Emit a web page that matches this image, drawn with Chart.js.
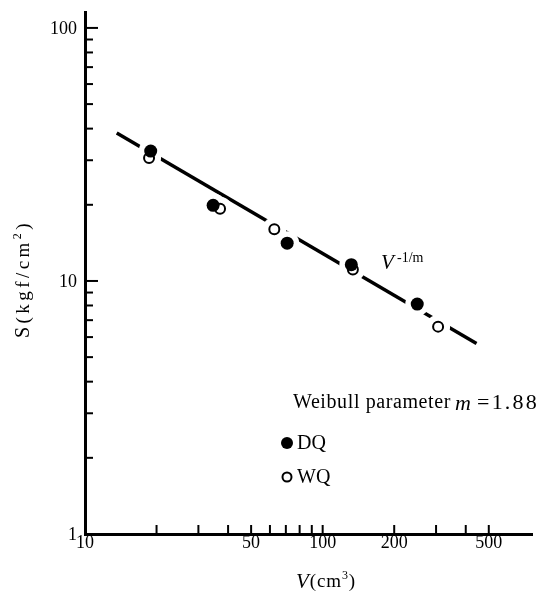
<!DOCTYPE html>
<html>
<head>
<meta charset="utf-8">
<script src="https://cdn.jsdelivr.net/npm/chart.js@4.4.1/dist/chart.umd.min.js"></script>
<style>
html,body{margin:0;padding:0;background:#fff;}
#wrap{width:544px;height:594px;position:relative;}
</style>
</head>
<body>
<div id="wrap"><canvas id="c" width="544" height="594"></canvas></div>
<script>
// Data
const V_DQ = [18.9, 34.6, 70.9, 132, 250];
const S_DQ = [32.6, 19.9, 14.1, 11.6, 8.1];
const V_WQ = [18.6, 37.0, 62.6, 134, 306];
const S_WQ = [30.6, 19.3, 16.0, 11.1, 6.6];
const V_FIT = [13.6, 444];
const S_FIT = [38.4, 5.66];
const X_TICKS = [10, 50, 100, 200, 500];
const Y_TICKS = [1, 10, 100];
const X_MINOR = [20, 30, 40, 50, 60, 70, 80, 90, 100, 200, 300, 400, 500];
const Y_MINOR = [2, 3, 4, 5, 6, 7, 8, 9, 20, 30, 40, 50, 60, 70, 80, 90];
const Y_MAJOR = [10, 100];

const pts = (xs, ys) => xs.map((x, i) => ({x: x, y: ys[i]}));
const SERIF = '"Liberation Serif", "DejaVu Serif", serif';

// draw a run of text pieces; optional targetW spreads the run to that width
function drawRun(ctx, pieces, x, y, targetW) {
  ctx.letterSpacing = '0px';
  let total = 0, n = 0;
  pieces.forEach(p => { ctx.font = p.font; total += ctx.measureText(p.t).width; n += p.t.length; });
  const sp = targetW ? Math.max(0, (targetW - total) / n) : 0;
  let cx = x;
  pieces.forEach(p => {
    ctx.font = p.font;
    ctx.letterSpacing = sp + 'px';
    ctx.fillText(p.t, cx, y + (p.dy || 0));
    cx += ctx.measureText(p.t).width;
  });
  ctx.letterSpacing = '0px';
}

const extras = {
  id: 'extras',
  afterDraw(chart) {
    const ctx = chart.ctx;
    const xs = chart.scales.x, ys = chart.scales.y;
    const left = chart.chartArea.left, bottom = chart.chartArea.bottom;
    ctx.save();
    ctx.strokeStyle = '#000';
    ctx.fillStyle = '#000';
    ctx.lineWidth = 2;
    // y ticks (inward)
    Y_MINOR.forEach(v => {
      const p = ys.getPixelForValue(v);
      ctx.beginPath(); ctx.moveTo(left, p); ctx.lineTo(left + 8, p); ctx.stroke();
    });
    Y_MAJOR.forEach(v => {
      const p = ys.getPixelForValue(v);
      ctx.beginPath(); ctx.moveTo(left, p); ctx.lineTo(left + 13, p); ctx.stroke();
    });
    // x ticks (inward)
    X_MINOR.forEach(v => {
      const p = xs.getPixelForValue(v);
      ctx.beginPath(); ctx.moveTo(p, bottom); ctx.lineTo(p, bottom - 9); ctx.stroke();
    });
    // tick labels
    ctx.textBaseline = 'middle';
    ctx.font = '18px ' + SERIF;
    ctx.textAlign = 'right';
    Y_TICKS.forEach(v => ctx.fillText(String(v), left - 8, ys.getPixelForValue(v) + 1));
    ctx.textAlign = 'center';
    X_TICKS.forEach(v => ctx.fillText(String(v), xs.getPixelForValue(v), bottom + 9));
    ctx.textAlign = 'left';
    // x axis title  V(cm3)
    drawRun(ctx, [
      {t: 'V', font: 'italic 21px ' + SERIF},
      {t: '(cm', font: '19px ' + SERIF},
      {t: '3', font: '12px ' + SERIF, dy: -6},
      {t: ')', font: '19px ' + SERIF}
    ], 296, 582, 60);
    // y axis title (rotated)
    ctx.save();
    ctx.translate(24, 338);
    ctx.rotate(-Math.PI / 2);
    drawRun(ctx, [
      {t: 'S', font: '20px ' + SERIF},
      {t: '(kgf/cm', font: '19px ' + SERIF},
      {t: '2', font: '12px ' + SERIF, dy: -6},
      {t: ')', font: '19px ' + SERIF}
    ], 0, 0, 118);
    ctx.restore();
    // V^-1/m label
    drawRun(ctx, [{t: 'V', font: 'italic 21px ' + SERIF}], 381, 263, 0);
    drawRun(ctx, [{t: '-1/m', font: '14px ' + SERIF}], 397, 258, 0);
    // Weibull text
    drawRun(ctx, [{t: 'Weibull parameter', font: '20px ' + SERIF}], 293, 403, 158);
    drawRun(ctx, [{t: 'm', font: 'italic 22px ' + SERIF}], 455, 404, 0);
    drawRun(ctx, [{t: '=1.88', font: '22px ' + SERIF}], 477, 403, 62);
    // legend
    ctx.beginPath(); ctx.arc(287, 443, 6, 0, Math.PI * 2); ctx.fill();
    drawRun(ctx, [{t: 'DQ', font: '20px ' + SERIF}], 297, 444, 0);
    ctx.lineWidth = 2;
    ctx.beginPath(); ctx.arc(287, 477, 4.5, 0, Math.PI * 2); ctx.stroke();
    drawRun(ctx, [{t: 'WQ', font: '20px ' + SERIF}], 297, 478, 0);
    ctx.restore();
  }
};

new Chart(document.getElementById('c'), {
  type: 'scatter',
  data: {
    datasets: [
      {label: 'DQ', data: pts(V_DQ, S_DQ), order: 0, pointRadius: 6.5, pointBackgroundColor: '#000', pointBorderColor: '#000', pointBorderWidth: 0, showLine: false},
      {label: 'WQ', data: pts(V_WQ, S_WQ), order: 1, pointRadius: 5, pointBackgroundColor: '#fff', pointBorderColor: '#000', pointBorderWidth: 2, showLine: false},
      {label: 'haloDQ', data: pts(V_DQ, S_DQ), order: 2, pointRadius: 12, pointBackgroundColor: '#fff', pointBorderWidth: 0, showLine: false},
      {label: 'haloWQ', data: pts(V_WQ, S_WQ), order: 2, pointRadius: 12, pointBackgroundColor: '#fff', pointBorderWidth: 0, showLine: false},
      {label: 'fit', data: pts(V_FIT, S_FIT), order: 3, showLine: true, borderColor: '#000', borderWidth: 3.5, pointRadius: 0}
    ]
  },
  options: {
    responsive: false,
    animation: false,
    events: [],
    layout: {padding: {top: 8, right: 6, left: 0, bottom: 0}},
    plugins: {legend: {display: false}, tooltip: {enabled: false}},
    scales: {
      x: {
        type: 'logarithmic', min: 10, max: 760, bounds: 'data',
        afterBuildTicks: s => { s.ticks = X_TICKS.map(v => ({value: v})); },
        afterFit: s => { s.height = 60; },
        grid: {display: false, drawTicks: false},
        border: {display: true, color: '#000', width: 3},
        ticks: {display: false}
      },
      y: {
        type: 'logarithmic', min: 1, max: 115.6, bounds: 'data',
        afterBuildTicks: s => { s.ticks = Y_TICKS.map(v => ({value: v})); },
        afterFit: s => { s.width = 85; },
        grid: {display: false, drawTicks: false},
        border: {display: true, color: '#000', width: 3},
        ticks: {display: false}
      }
    }
  },
  plugins: [extras]
});
</script>
</body>
</html>
